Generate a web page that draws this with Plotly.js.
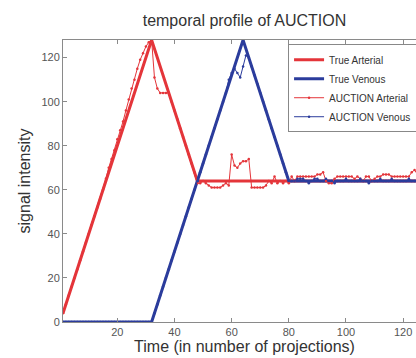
<!DOCTYPE html>
<html>
<head>
<meta charset="utf-8">
<script src="https://cdn.plot.ly/plotly-3.0.1.min.js"></script>
<style>
  html, body { margin: 0; padding: 0; overflow: hidden; background: #fff; }
  #chart { width: 440px; height: 358px; }
</style>
</head>
<body>
<div id="chart"></div>
<script>
// Ideal (reference) curves, given by their breakpoints
const trueArterialX = [1, 32, 48, 128];
const trueArterialY = [4, 128, 64, 64];
const trueVenousX = [1, 32, 64, 80, 128];
const trueVenousY = [0, 0, 128, 64, 64];

// Reconstructed curves, one value per projection (1..128)
const projections = [
  1, 2, 3, 4, 5, 6, 7, 8, 9, 10, 11, 12, 13, 14, 15, 16,
  17, 18, 19, 20, 21, 22, 23, 24, 25, 26, 27, 28, 29, 30, 31, 32,
  33, 34, 35, 36, 37, 38, 39, 40, 41, 42, 43, 44, 45, 46, 47, 48,
  49, 50, 51, 52, 53, 54, 55, 56, 57, 58, 59, 60, 61, 62, 63, 64,
  65, 66, 67, 68, 69, 70, 71, 72, 73, 74, 75, 76, 77, 78, 79, 80,
  81, 82, 83, 84, 85, 86, 87, 88, 89, 90, 91, 92, 93, 94, 95, 96,
  97, 98, 99, 100, 101, 102, 103, 104, 105, 106, 107, 108, 109, 110, 111, 112,
  113, 114, 115, 116, 117, 118, 119, 120, 121, 122, 123, 124, 125, 126, 127, 128
];
const auctionArterial = [
  4, 8, 12, 16, 20, 24, 28, 32, 36, 40, 44, 48, 52, 56, 60, 65,
  70, 74, 78, 83, 87, 91, 96, 101, 106, 110, 115, 119, 122, 125, 127, 128,
  111, 106, 104, 104, 104, 104, 100, 96, 92, 88, 84, 80, 76, 72, 68, 63,
  63, 64, 63, 62, 61, 61, 61, 61, 62, 63, 62, 76, 71, 70, 72, 73,
  73, 74, 61, 61, 61, 61, 61, 62, 64, 63, 66, 63, 64, 63, 64, 63,
  66, 64, 66, 66, 66, 66, 66, 66, 66, 67, 67, 68, 64, 63, 63, 65,
  66, 66, 66, 66, 66, 66, 65, 66, 65, 64, 66, 66, 64, 65, 66, 66,
  67, 67, 67, 66, 66, 66, 66, 66, 66, 66, 68, 69, 67, 66, 66, 66
];
const auctionVenous = [
  0, 0, 0, 0, 0, 0, 0, 0, 0, 0, 0, 0, 0, 0, 0, 0,
  0, 0, 0, 0, 0, 0, 0, 0, 0, 0, 0, 0, 0, 0, 0, 0,
  4, 8, 12, 16, 20, 24, 28, 32, 36, 40, 44, 48, 52, 56, 60, 64,
  68, 72, 76, 80, 84, 88, 92, 96, 100, 104, 110, 113, 115, 113, 111, 116,
  121, 120, 116, 112, 108, 104, 100, 96, 92, 88, 84, 80, 76, 72, 68, 64,
  64, 64, 65, 65, 65, 64, 63, 64, 65, 65, 64, 64, 65, 64, 64, 63,
  64, 64, 64, 65, 64, 64, 64, 64, 65, 64, 64, 63, 64, 64, 64, 65,
  64, 64, 64, 65, 64, 64, 64, 64, 64, 65, 64, 64, 64, 64, 64, 64
];

const xTicks = [20, 40, 60, 80, 100, 120];
const yTicks = [0, 20, 40, 60, 80, 100, 120];

const RED = '#e4353a';
const BLUE = '#2b3c9c';

const traces = [
  { x: trueArterialX, y: trueArterialY, name: 'True Arterial', mode: 'lines',
    line: { color: RED, width: 3 } },
  { x: trueVenousX, y: trueVenousY, name: 'True Venous', mode: 'lines',
    line: { color: BLUE, width: 3 } },
  { x: projections, y: auctionArterial, name: 'AUCTION Arterial', mode: 'lines+markers',
    line: { color: RED, width: 1 }, marker: { color: RED, size: 2.5 } },
  { x: projections, y: auctionVenous, name: 'AUCTION Venous', mode: 'lines+markers',
    line: { color: BLUE, width: 1 }, marker: { color: BLUE, size: 2.5 } }
];

const axisCommon = {
  showgrid: false, zeroline: false, showline: true, mirror: 'ticks',
  linecolor: '#8a8a8a', linewidth: 1, ticks: 'inside', ticklen: 4,
  tickcolor: '#8a8a8a', tickfont: { family: 'Liberation Sans, Arial, sans-serif', size: 11, color: '#555' }
};

const layout = {
  width: 440, height: 358,
  margin: { l: 63, r: 14, t: 40, b: 36 },
  paper_bgcolor: '#fff', plot_bgcolor: '#fff',
  font: { family: 'Liberation Sans, Arial, sans-serif', color: '#333' },
  title: { text: 'temporal profile of AUCTION', x: 0.5, xref: 'paper',
           y: 0.944, yref: 'container', yanchor: 'middle',
           font: { size: 16, color: '#333' } },
  xaxis: Object.assign({}, axisCommon, {
    range: [1, 128], tickvals: xTicks, ticktext: xTicks.map(String),
    title: { text: 'Time (in number of projections)', standoff: 2,
             font: { size: 16, color: '#333' } }
  }),
  yaxis: Object.assign({}, axisCommon, {
    range: [0, 128], tickvals: yTicks, ticktext: yTicks.map(String),
    title: { text: 'signal intensity', standoff: 6,
             font: { size: 16, color: '#333' } }
  }),
  showlegend: true,
  legend: {
    x: 0.62, y: 0.985, xanchor: 'left', yanchor: 'top',
    bgcolor: '#fff', bordercolor: '#888', borderwidth: 1,
    font: { size: 10, color: '#333' }, tracegroupgap: 0
  }
};

Plotly.newPlot('chart', traces, layout, { displayModeBar: false, staticPlot: true });
</script>
</body>
</html>
